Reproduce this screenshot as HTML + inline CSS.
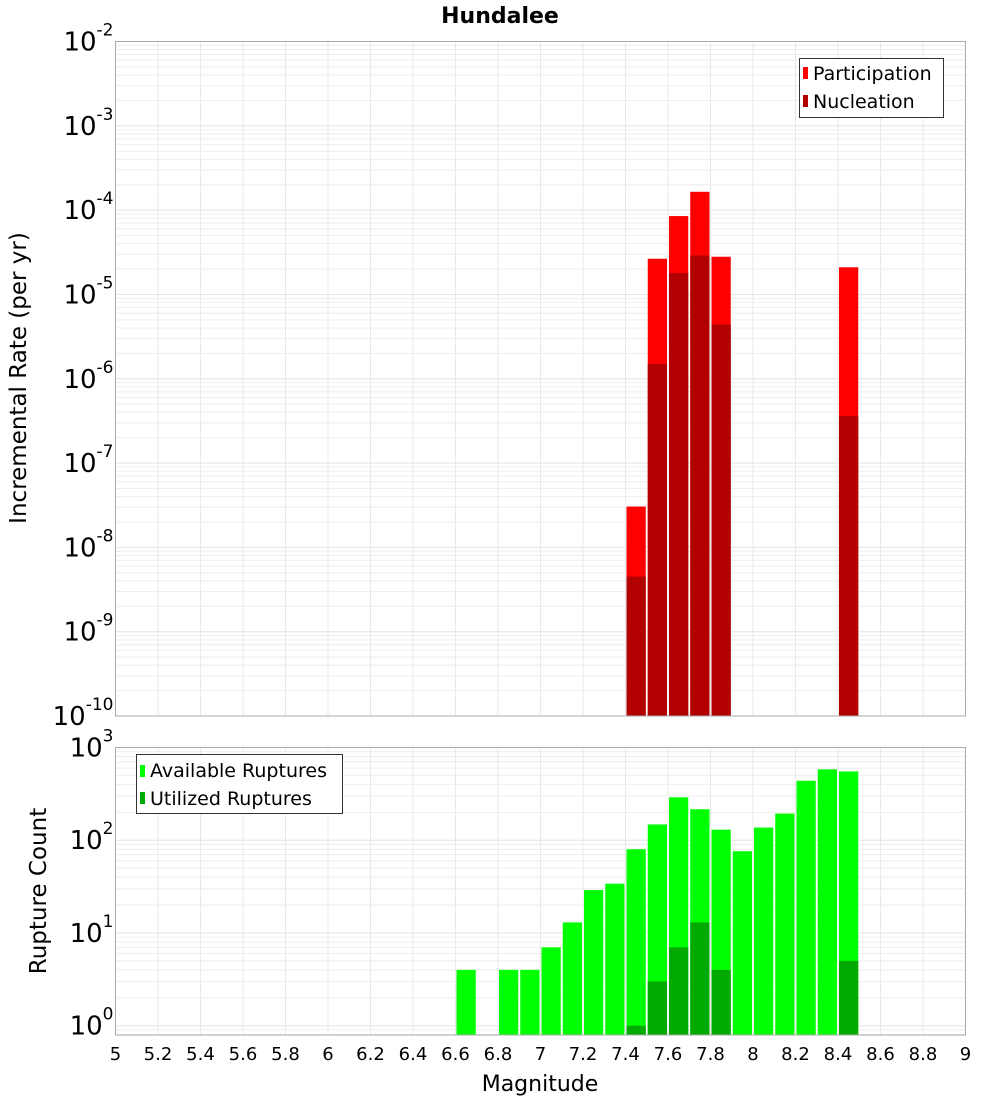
<!DOCTYPE html>
<html><head><meta charset="utf-8"><style>
body{margin:0;background:#fff;}
svg text{font-family:"DejaVu Sans","Liberation Sans",sans-serif;}
</style></head><body>
<svg id="chart" width="1000" height="1100" xmlns="http://www.w3.org/2000/svg">
<text x="500" y="23" text-anchor="middle" font-size="22" font-weight="bold">Hundalee</text>
<g id="top"></g><g id="bot"></g>
<text transform="translate(26,378) rotate(-90)" text-anchor="middle" font-size="23">Incremental Rate (per yr)</text>
<text transform="translate(46,891) rotate(-90)" text-anchor="middle" font-size="23">Rupture Count</text>
<text x="540" y="1091" text-anchor="middle" font-size="22">Magnitude</text>
<g>
<rect x="799.5" y="58.5" width="144" height="59" fill="#fff" stroke="#333"/>
<rect x="803" y="67" width="5" height="12" fill="#ff0000"/>
<text x="813" y="80" font-size="19">Participation</text>
<rect x="803" y="95" width="5" height="12" fill="#b20000"/>
<text x="813" y="108" font-size="19">Nucleation</text>
</g>
<g>
<rect x="136.5" y="754.5" width="206" height="59" fill="#fff" stroke="#333"/>
<rect x="140" y="765" width="5" height="12" fill="#00ff00"/>
<text x="150" y="777" font-size="19">Available Ruptures</text>
<rect x="140" y="792" width="5" height="12" fill="#00aa00"/>
<text x="150" y="805" font-size="19">Utilized Ruptures</text>
</g>
</svg>
<script>
const mags=[7.45,7.55,7.65,7.75,7.85,8.45];
const participation=[3.05e-8,2.65e-5,8.5e-5,1.65e-4,2.8e-5,2.1e-5];
const nucleation=[4.5e-9,1.5e-6,1.8e-5,2.9e-5,4.4e-6,3.6e-7];
const countMags=[6.65,6.85,6.95,7.05,7.15,7.25,7.35,7.45,7.55,7.65,7.75,7.85,7.95,8.05,8.15,8.25,8.35,8.45];
const available=[4,4,4,7,13,29,34,80,148,290,216,130,76,137,194,438,582,552];
const utilizedMags=[7.45,7.55,7.65,7.75,7.85,8.45];
const utilized=[1,3,7,13,4,5];
const xTicks=[5,5.2,5.4,5.6,5.8,6,6.2,6.4,6.6,6.8,7,7.2,7.4,7.6,7.8,8,8.2,8.4,8.6,8.8,9];
const topExps=[-2,-3,-4,-5,-6,-7,-8,-9,-10];
const botExps=[3,2,1,0];

const NS="http://www.w3.org/2000/svg";
const X0=115.5,X1=965.5;
function xs(m){return X0+(m-5)/4*(X1-X0);}
function mk(p,tag,a){const e=document.createElementNS(NS,tag);for(const k in a)e.setAttribute(k,a[k]);p.appendChild(e);return e;}
function panel(g,top,bot,lmin,lmax,name){
  const ys=v=>bot-(Math.log10(v)-lmin)/(lmax-lmin)*(bot-top);
  for(let d=Math.floor(lmin);d<lmax;d++)for(let k=1;k<10;k++){
    const v=k*Math.pow(10,d);const y=ys(v);if(y<top||y>bot)continue;
    const l=mk(g,'line',{x1:X0,x2:X1,y1:y,y2:y,stroke:k==1?'#e4e4e4':'#eeeeee','stroke-width':1});
    
    
  }
  xTicks.forEach(t=>{const l=mk(g,'line',{x1:xs(t),x2:xs(t),y1:top,y2:bot,stroke:'#e8e8e8'});
    
    });
  return ys;
}
function bar(g,m,v,ys,bot,col,name){
  const x=xs(m-0.05)+1,w=xs(m+0.05)-xs(m-0.05)-2,y=ys(v);
  const r=mk(g,'rect',{x:x,y:y,width:w,height:bot-y,fill:col});
  
  
}
function ylabel(g,y,e,name){
  const t=mk(g,'text',{x:X0-2,y:y+9,'text-anchor':'end','font-size':26});
  
  
  const a=document.createElementNS(NS,'tspan');a.textContent='10';t.appendChild(a);
  const b=document.createElementNS(NS,'tspan');b.setAttribute('font-size','17');b.setAttribute('dy','-15');b.textContent=String(e);t.appendChild(b);
}
const gt=document.getElementById('top'),gb=document.getElementById('bot');
const T0=41.5,T1=716;
const ysT=panel(gt,T0,T1,-10,-2,'top');
mags.forEach((m,i)=>bar(gt,m,participation[i],ysT,T1,'#ff0000','participation-bar'));
mags.forEach((m,i)=>bar(gt,m,nucleation[i],ysT,T1,'#b20000','nucleation-bar'));
mk(gt,'rect',{x:X0,y:T0,width:X1-X0,height:T1-T0,fill:'none',stroke:'#aaaaaa'});
topExps.forEach(e=>ylabel(gt,ysT(Math.pow(10,e)),e,'top-y-tick-label'));
const B0=747.5,B1=1035;
const bmin=-(B1-1025.7)/((1025.7-B0)/3);
const ysB=panel(gb,B0,B1,bmin,3,'bottom');
countMags.forEach((m,i)=>bar(gb,m,available[i],ysB,B1,'#00ff00','available-bar'));
utilizedMags.forEach((m,i)=>bar(gb,m,utilized[i],ysB,B1,'#00aa00','utilized-bar'));
mk(gb,'rect',{x:X0,y:B0,width:X1-X0,height:B1-B0,fill:'none',stroke:'#aaaaaa'});
botExps.forEach(e=>ylabel(gb,ysB(Math.pow(10,e)),e,'bottom-y-tick-label'));
xTicks.forEach(t=>{const s=mk(gb,'text',{x:xs(t),y:1060,'text-anchor':'middle','font-size':18});
  
  
  s.textContent=String(t);});
</script>
</body></html>
